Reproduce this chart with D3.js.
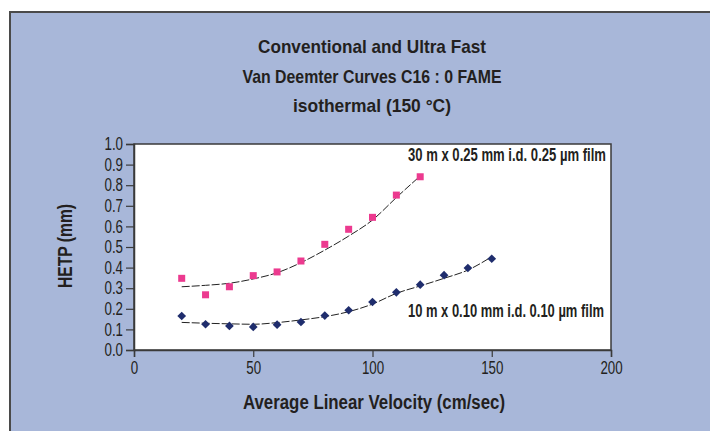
<!DOCTYPE html>
<html>
<head>
<meta charset="utf-8">
<script src="https://cdn.jsdelivr.net/npm/d3@7"></script>
<style>
  body { margin: 0; background: #fff; }
  svg text { font-family: "Liberation Sans", Arial, sans-serif; fill: #231f20; }
</style>
</head>
<body>
<svg id="chart" width="710" height="431"></svg>
<script>
// data
var velocity30 = [20, 30, 40, 50, 60, 70, 80, 90, 100, 110, 120];
var hetp30 = [0.348, 0.268, 0.307, 0.361, 0.379, 0.432, 0.513, 0.586, 0.644, 0.752, 0.841];
var trend30 = [0.307, 0.314, 0.324, 0.345, 0.375, 0.424, 0.485, 0.553, 0.631, 0.74, 0.845];

var velocity10 = [20, 30, 40, 50, 60, 70, 80, 90, 100, 110, 120, 130, 140, 150];
var hetp10 = [0.165, 0.125, 0.117, 0.112, 0.123, 0.136, 0.167, 0.193, 0.233, 0.28, 0.317, 0.363, 0.398, 0.443];
var trend10 = [0.134, 0.13, 0.127, 0.125, 0.133, 0.146, 0.162, 0.186, 0.223, 0.275, 0.311, 0.348, 0.388, 0.453];

var xTicks = [0, 50, 100, 150, 200];
var yTicks = [0, 0.1, 0.2, 0.3, 0.4, 0.5, 0.6, 0.7, 0.8, 0.9, 1.0];

var titleLines = ["Conventional and Ultra Fast", "Van Deemter Curves C16 : 0 FAME", "isothermal (150 °C)"];
var label30 = "30 m x 0.25 mm i.d. 0.25 µm film";
var label10 = "10 m x 0.10 mm i.d. 0.10 µm film";

var svg = d3.select("#chart");

// squeeze a label into a given width so it looks like a condensed face
function squeeze(sel, w) {
  sel.attr("textLength", w).attr("lengthAdjust", "spacingAndGlyphs");
}

// blue panel with frame on top/left
svg.append("rect").attr("x", 10).attr("y", 12).attr("width", 700).attr("height", 419).attr("fill", "#a8b7d9");
svg.append("path").attr("d", "M10,431V12H710").attr("fill", "none").attr("stroke", "#4a4a4a").attr("stroke-width", 2);

var x = d3.scaleLinear().domain([0, 200]).range([134, 611]);
var y = d3.scaleLinear().domain([0, 1]).range([350, 144]);

// plot area
svg.append("rect")
  .attr("x", x(0)).attr("y", y(1))
  .attr("width", x(200) - x(0)).attr("height", y(0) - y(1))
  .attr("fill", "#fff").attr("stroke", "#3a3a3a").attr("stroke-width", 1.5);

var xAxis = svg.append("g").attr("transform", "translate(0," + y(0) + ")")
  .call(d3.axisBottom(x).tickValues(xTicks).tickSize(7).tickPadding(4).tickFormat(d3.format("d")));
var yAxis = svg.append("g").attr("transform", "translate(" + x(0) + ",0)")
  .call(d3.axisLeft(y).tickValues(yTicks).tickSize(8).tickPadding(3).tickFormat(d3.format(".1f")));

[xAxis, yAxis].forEach(function (a) {
  a.select(".domain").attr("stroke", "#3a3a3a").attr("stroke-width", 1.5);
  a.selectAll(".tick line").attr("stroke", "#3a3a3a").attr("stroke-width", 1.2);
  a.selectAll(".tick text").style("font-size", "18px").attr("fill", "#231f20")
    .each(function () {
      d3.select(this).call(squeeze, this.getComputedTextLength() * 0.74);
    });
});

// trend lines
var line = d3.line().x(function (d) { return x(d[0]); }).y(function (d) { return y(d[1]); }).curve(d3.curveMonotoneX);

svg.append("path")
  .datum(d3.zip(velocity30, trend30))
  .attr("d", line).attr("fill", "none")
  .attr("stroke", "#222").attr("stroke-width", 1).attr("stroke-dasharray", "8,2");

svg.append("path")
  .datum(d3.zip(velocity10, trend10))
  .attr("d", line).attr("fill", "none")
  .attr("stroke", "#222").attr("stroke-width", 1).attr("stroke-dasharray", "8,2");

// markers
svg.append("g").selectAll("rect")
  .data(d3.zip(velocity30, hetp30))
  .enter()
  .append("rect")
  .attr("x", function (d) { return x(d[0]) - 3.5; })
  .attr("y", function (d) { return y(d[1]) - 3.5; })
  .attr("width", 7).attr("height", 7)
  .attr("fill", "#ec3a8f");

svg.append("g").selectAll("path")
  .data(d3.zip(velocity10, hetp10))
  .enter()
  .append("path")
  .attr("d", d3.symbol().type(d3.symbolSquare).size(38))
  .attr("transform", function (d) { return "translate(" + x(d[0]) + "," + y(d[1]) + ") rotate(45)"; })
  .attr("fill", "#1f2d6d");

// series labels
svg.append("text").attr("x", 606).attr("y", 161).attr("text-anchor", "end")
  .style("font-size", "18px").style("font-weight", "bold").text(label30).call(squeeze, 198);
svg.append("text").attr("x", 604).attr("y", 317).attr("text-anchor", "end")
  .style("font-size", "18px").style("font-weight", "bold").text(label10).call(squeeze, 196);

// title
var titleWidths = [228, 259, 158];
svg.append("g").selectAll("text")
  .data(titleLines)
  .enter()
  .append("text")
  .attr("x", 372)
  .attr("y", function (d, i) { return 53 + i * 29.5; })
  .attr("text-anchor", "middle")
  .style("font-size", "19px").style("font-weight", "bold")
  .text(function (d) { return d; })
  .each(function (d, i) { d3.select(this).call(squeeze, titleWidths[i]); });

// axis titles
svg.append("text").attr("x", 374).attr("y", 409).attr("text-anchor", "middle")
  .style("font-size", "20px").style("font-weight", "bold").text("Average Linear Velocity (cm/sec)").call(squeeze, 262);
svg.append("text").attr("transform", "translate(71.5,246) rotate(-90)").attr("text-anchor", "middle")
  .style("font-size", "20px").style("font-weight", "bold").text("HETP (mm)").call(squeeze, 84);
</script>
</body>
</html>
